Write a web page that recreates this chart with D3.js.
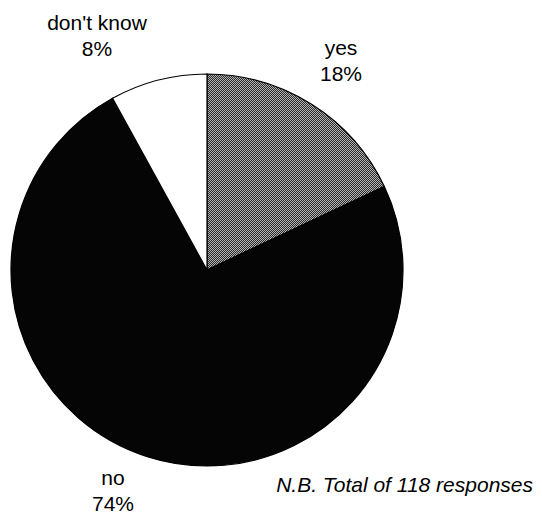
<!DOCTYPE html>
<html>
<head>
<meta charset="utf-8">
<script src="https://cdn.jsdelivr.net/npm/d3@7"></script>
<style>
  html, body { margin: 0; padding: 0; background: #fff; }
  svg { display: block; }
  text { font-family: "Liberation Sans", Arial, sans-serif; fill: #000; }
</style>
</head>
<body>
<svg id="chart" width="542" height="515"></svg>
<script>
// Survey answers, in clockwise order from 12 o'clock
const categories = ["yes", "no", "don't know"];
const percents = [18, 74, 8];
const percentLabels = ["18%", "74%", "8%"];
const totalResponses = 118;

const fills = {"yes": "url(#dither)", "no": "#050505", "don't know": "#ffffff"};

const svg = d3.select("#chart");
const cx = 207, cy = 270, r = 196;

// dithered grey for the "yes" slice
const defs = svg.append("defs");
const pat = defs.append("pattern")
  .attr("id", "dither")
  .attr("patternUnits", "userSpaceOnUse")
  .attr("width", 2).attr("height", 2);
pat.append("rect").attr("width", 2).attr("height", 2).attr("fill", "#b4b4b4");
pat.append("rect").attr("x", 0).attr("y", 0).attr("width", 1).attr("height", 1).attr("fill", "#2a2a2a");
pat.append("rect").attr("x", 1).attr("y", 1).attr("width", 1).attr("height", 1).attr("fill", "#2a2a2a");

const data = categories.map((c, i) => ({cat: c, value: percents[i], label: percentLabels[i]}));

const pie = d3.pie().value(d => d.value).sort(null);
const arc = d3.arc().innerRadius(0).outerRadius(r);

const g = svg.append("g").attr("transform", `translate(${cx},${cy})`);
g.selectAll("path")
  .data(pie(data))
  .join("path")
  .attr("d", arc)
  .attr("fill", d => fills[d.data.cat])
  .attr("stroke", "#000")
  .attr("stroke-width", 1.2);

// category labels, name above percentage
const labelPos = {
  "yes": [341, 55],
  "no": [113, 485],
  "don't know": [97, 30]
};
const fs = 21;
data.forEach(d => {
  const [x, y] = labelPos[d.cat];
  const t = svg.append("text")
    .attr("x", x).attr("y", y)
    .attr("text-anchor", "middle")
    .style("font-size", fs + "px");
  t.append("tspan").attr("x", x).text(d.cat);
  t.append("tspan").attr("x", x).attr("dy", 26).text(d.label);
});

svg.append("text")
  .attr("x", 533).attr("y", 492)
  .attr("text-anchor", "end")
  .style("font-size", fs + "px")
  .style("font-style", "italic")
  .text(`N.B. Total of ${totalResponses} responses`);
</script>
</body>
</html>
